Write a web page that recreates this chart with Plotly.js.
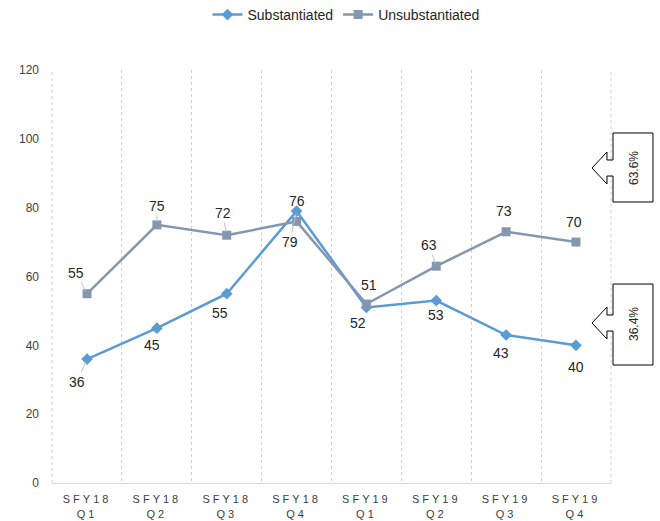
<!DOCTYPE html>
<html>
<head>
<meta charset="utf-8">
<script src="https://cdn.plot.ly/plotly-3.0.1.min.js"></script>
<style>
html,body{margin:0;padding:0;background:#fff;}
#chart{width:660px;height:521px;}
#chart .xtick text{letter-spacing:3px;}
</style>
</head>
<body>
<div id="chart"></div>
<script>
// ---- data ----
const categories = ["SFY18<br>Q1","SFY18<br>Q2","SFY18<br>Q3","SFY18<br>Q4","SFY19<br>Q1","SFY19<br>Q2","SFY19<br>Q3","SFY19<br>Q4"];
const substantiated = [36, 45, 55, 79, 51, 53, 43, 40];
const unsubstantiated = [55, 75, 72, 76, 52, 63, 73, 70];
// labels as shown in the picture
const substantiatedLabels = ["36","45","55","79","51","53","43","40"];
const unsubstantiatedLabels = ["55","75","72","76","52","63","73","70"];
const shareLabels = ["63.6%", "36.4%"];
const yTicks = [0, 20, 40, 60, 80, 100, 120];

// ---- label placement (pixel offsets from each point, leader flag) ----
const subOff = [[-10,23,1],[-5,17,0],[-7,19,0],[-7,31,1],[3,-22,0],[0,14,0],[-5,18,0],[0,22,0]];
const unsOff = [[-11,-21,1],[0,-19,1],[-4,-22,1],[0,-20,0],[-8,19,0],[-7,-21,1],[-2,-21,0],[-2,-20,0]];

const C_SUB = "#5B9BD5", C_UNS = "#8497B0";
const L = 52, R = 611, T = 70, B = 483;
const px = x => (x - L) / (R - L);
const py = y => (B - y) / (B - T);
const FONT = "Liberation Sans, Arial, sans-serif";

const traces = [
  {x: categories, y: substantiated, name: "Substantiated", type: "scatter", mode: "lines+markers",
   line: {color: C_SUB, width: 2.5}, marker: {symbol: "diamond", size: 9, color: C_SUB}},
  {x: categories, y: unsubstantiated, name: "Unsubstantiated", type: "scatter", mode: "lines+markers",
   line: {color: C_UNS, width: 2.5}, marker: {symbol: "square", size: 9, color: C_UNS}}
];

const annotations = [];
function addLabels(vals, labels, offs) {
  vals.forEach((v, i) => {
    annotations.push({x: categories[i], y: v, text: labels[i], showarrow: true,
      ax: offs[i][0], ay: offs[i][1], arrowhead: 0, arrowwidth: 1, standoff: 3,
      arrowcolor: offs[i][2] ? "#bfbfbf" : "rgba(0,0,0,0)",
      font: {size: 14, color: "#262626", family: FONT}});
  });
}
addLabels(substantiated, substantiatedLabels, subOff);
addLabels(unsubstantiated, unsubstantiatedLabels, unsOff);

// callouts
function callout(top, bot, tip) {
  const pts = [[613,top],[653,top],[653,bot],[613,bot],[613,tip+8],[607,tip+8],[607,tip+16],[592,tip],[607,tip-16],[607,tip-8],[613,tip-8]];
  return "M" + pts.map(p => px(p[0]).toFixed(4) + "," + py(p[1]).toFixed(4)).join(" L") + " Z";
}
const edge = {color: "#d0d0d0", width: 1, dash: "dot"};
const shapes = [
  {type: "line", xref: "paper", yref: "paper", x0: 0, x1: 0, y0: 0, y1: 1, line: edge, layer: "below"},
  {type: "line", xref: "paper", yref: "paper", x0: 1, x1: 1, y0: 0, y1: 1, line: edge, layer: "below"},
  {type: "path", xref: "paper", yref: "paper", path: callout(133, 202, 168), line: {color: "#000", width: 1}, fillcolor: "#fff"},
  {type: "path", xref: "paper", yref: "paper", path: callout(284, 365, 323), line: {color: "#000", width: 1}, fillcolor: "#fff"}
];
annotations.push({xref: "paper", yref: "paper", x: px(634), y: py(168), xanchor: "center", yanchor: "middle", text: shareLabels[0], showarrow: false, textangle: -90, font: {size: 12, color: "#262626", family: FONT}});
annotations.push({xref: "paper", yref: "paper", x: px(634), y: py(324), xanchor: "center", yanchor: "middle", text: shareLabels[1], showarrow: false, textangle: -90, font: {size: 12, color: "#262626", family: FONT}});

const layout = {
  width: 660, height: 521,
  margin: {l: L, r: 660 - R, t: T, b: 521 - B, autoexpand: false},
  paper_bgcolor: "#fff", plot_bgcolor: "#fff",
  font: {family: FONT, size: 12, color: "#404040"},
  showlegend: true,
  legend: {orientation: "h", x: px(346), xanchor: "center", y: py(15), yanchor: "middle",
    font: {size: 14, color: "#262626", family: FONT}, tracegroupgap: 0},
  xaxis: {type: "category", tickson: "boundaries", showgrid: true, gridcolor: "#d0d0d0", griddash: "dot", gridwidth: 1,
    showline: true, linecolor: "#d9d9d9", ticks: "", ticklabelstandoff: 6,
    tickfont: {size: 11, color: "#404040", family: FONT}, range: [-0.502, 7.502], fixedrange: true},
  yaxis: {range: [0, 120], tickvals: yTicks, showgrid: false, zeroline: false, showline: false,
    ticks: "", tickfont: {size: 12, color: "#404040", family: FONT}, ticklabelstandoff: 12, fixedrange: true},
  shapes: shapes,
  annotations: annotations
};
Plotly.newPlot("chart", traces, layout, {displayModeBar: false, staticPlot: true});
</script>
</body>
</html>
